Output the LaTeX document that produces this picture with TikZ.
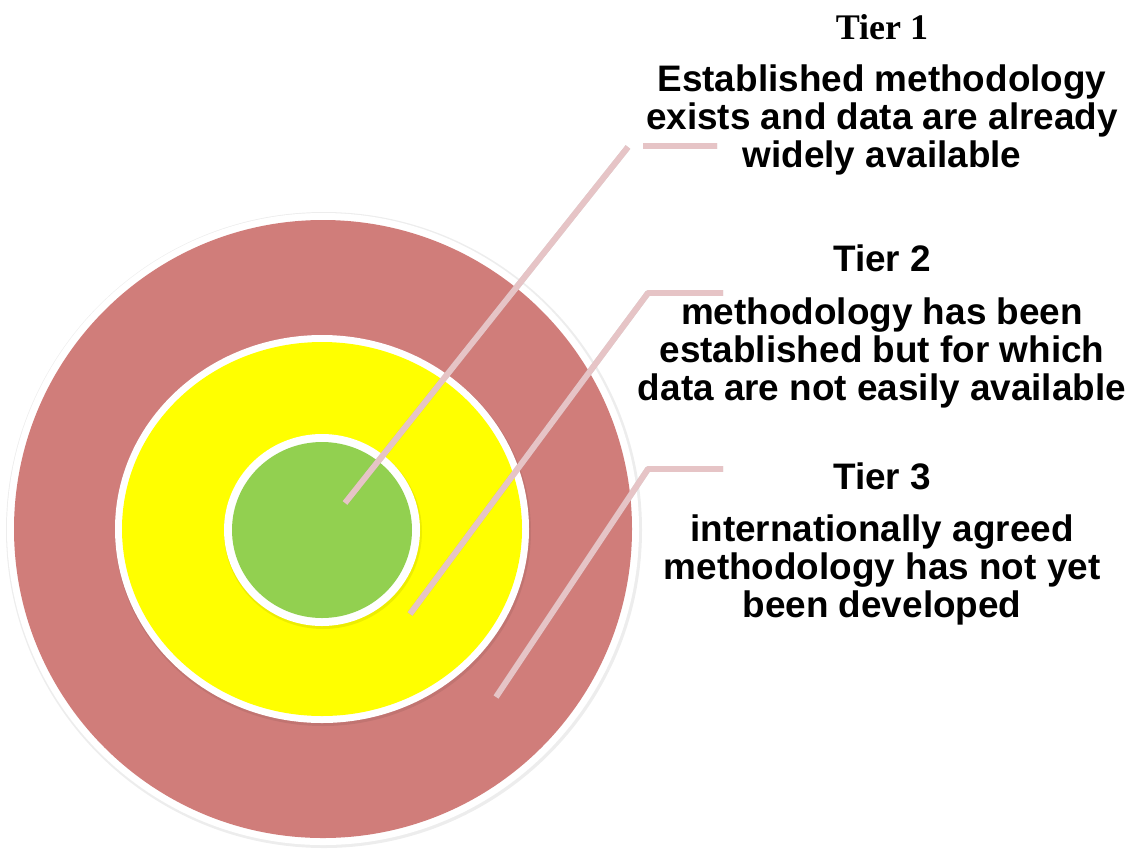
\documentclass[tikz,border=0pt]{standalone}
\usepackage{fontspec}
\setmainfont{Liberation Sans}
\newfontfamily\tierfont{Liberation Serif}
\definecolor{ringred}{HTML}{D07D7A}
\definecolor{ringyellow}{HTML}{FFFF00}
\definecolor{ringgreen}{HTML}{92D050}
\definecolor{leaderpink}{HTML}{E6C4C6}

\begin{document}
\begin{tikzpicture}[x=0.02cm,y=-0.02cm,
    ringshade/.style={fill=black,opacity=.07},
    leader/.style={leaderpink,line width=3.4pt,line join=round},
    leadershade/.style={black!50,opacity=.30,line width=3.4pt,line join=round,shift={(2,3)}},
    tiertext/.style={inner sep=0pt,align=center,font=\bfseries\fontsize{21}{21.5}\selectfont},
    tierhead/.style={inner sep=0pt,font=\bfseries\fontsize{21}{22}\selectfont}]
    \useasboundingbox (0,0) rectangle (1132,853);
    % rings
    \fill[ringshade] (324,530) circle [radius=318];
    \fill[white] (323,529) circle [radius=316];
    \fill[ringred] (323,529) circle [radius=309];
    \fill[ringshade] (323,531) ellipse [x radius=208, y radius=195];
    \fill[white] (322,529) ellipse [x radius=207, y radius=194];
    \fill[ringyellow] (322,529) ellipse [x radius=200, y radius=187];
    \fill[ringshade] (323,532) ellipse [x radius=99, y radius=97];
    \fill[white] (322,530) ellipse [x radius=98, y radius=96];
    \fill[ringgreen] (322,530) ellipse [x radius=90, y radius=88];
    % labels
    \node[tierhead,font=\tierfont\bfseries\fontsize{20.5}{22}\selectfont] (t1) at (882,27) {Tier 1};
    \node[tiertext] (d1) at (882,120) {Established methodology\\exists and data are already\\widely available};
    \node[tierhead] (t2) at (882,258) {Tier 2};
    \node[tiertext] (d2) at (882,353) {methodology has been\\established but for which\\data are not easily available};
    \node[tierhead] (t3) at (882,476) {Tier 3};
    \node[tiertext] (d3) at (882,570) {internationally agreed\\methodology has not yet\\been developed};
    % leader lines
    \coordinate (p1) at (345,503);
    \coordinate (k1) at (628,147);
    \coordinate (s1) at (643,146);
    \coordinate (e1) at (717,146);
    \coordinate (p2) at (410,614);
    \coordinate (k2) at (648,293);
    \coordinate (e2) at (723,293);
    \coordinate (p3) at (496,697);
    \coordinate (k3) at (648,469);
    \coordinate (e3) at (723,469);
    \draw[leadershade] (p1)--(k1) (s1)--(e1)
        (p2)--(k2)--(e2)
        (p3)--(k3)--(e3);
    \draw[leader] (p1)--(k1) (s1)--(e1)
        (p2)--(k2)--(e2)
        (p3)--(k3)--(e3);
\end{tikzpicture}
\end{document}
